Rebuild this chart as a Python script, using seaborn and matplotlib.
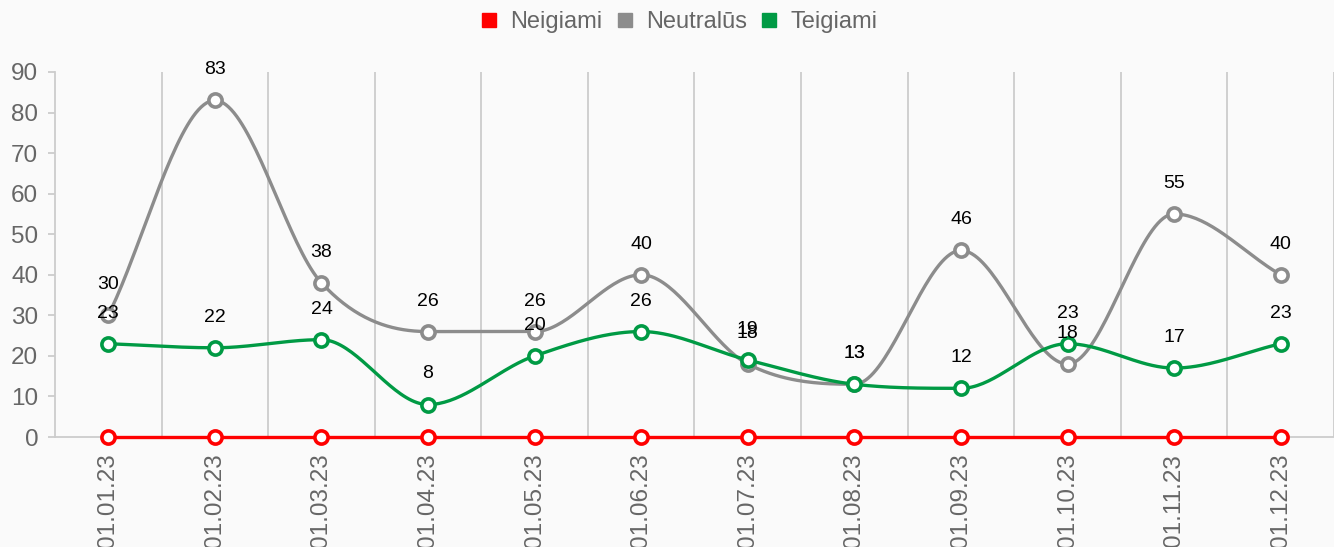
import numpy as np
import pandas as pd
import matplotlib
matplotlib.use("Agg")
import matplotlib.pyplot as plt
import seaborn as sns
from matplotlib.lines import Line2D

# -------------------
# Data
# -------------------
dates = ["01.01.23", "01.02.23", "01.03.23", "01.04.23", "01.05.23", "01.06.23",
         "01.07.23", "01.08.23", "01.09.23", "01.10.23", "01.11.23", "01.12.23"]
neigiami = [0, 0, 0, 0, 0, 0, 0, 0, 0, 0, 0, 0]
neutralus = [30, 83, 38, 26, 26, 40, 18, 13, 46, 18, 55, 40]
teigiami = [23, 22, 24, 8, 20, 26, 19, 13, 12, 23, 17, 23]

series_names = ["Neigiami", "Neutralūs", "Teigiami"]
series_values = [neigiami, neutralus, teigiami]
colors = ["#ff0000", "#8c8c8c", "#009a44"]
zorders = [5, 3, 4]

Y_MAX = 90
CAT_PX = 107.3  # width of one category band in pixels


def smooth_monotone(values, n=40):
    """Monotone cubic curve through the points (chart.js 'monotone' mode)."""
    y = np.asarray(values, dtype=float)
    x = np.arange(len(y), dtype=float)
    k = len(y)
    delta = np.diff(y) / np.diff(x)
    m = np.zeros(k)
    m[0] = delta[0]
    m[-1] = delta[-1]
    for i in range(1, k - 1):
        if np.sign(delta[i - 1]) != np.sign(delta[i]) or delta[i - 1] == 0 or delta[i] == 0:
            m[i] = 0
        else:
            m[i] = (delta[i - 1] + delta[i]) / 2
    for i in range(k - 1):
        if delta[i] == 0:
            m[i] = m[i + 1] = 0
            continue
        a = m[i] / delta[i]
        b = m[i + 1] / delta[i]
        s = a * a + b * b
        if s > 9:
            t = 3 / np.sqrt(s)
            m[i] = a * t * delta[i]
            m[i + 1] = b * t * delta[i]
    t = np.linspace(0, 1, n)
    xs, ys = [], []
    for i in range(k - 1):
        h = x[i + 1] - x[i]
        h00 = 2 * t ** 3 - 3 * t ** 2 + 1
        h10 = t ** 3 - 2 * t ** 2 + t
        h01 = -2 * t ** 3 + 3 * t ** 2
        h11 = t ** 3 - t ** 2
        seg_y = h00 * y[i] + h10 * h * m[i] + h01 * y[i + 1] + h11 * h * m[i + 1]
        seg_x = x[i] + t * h
        start = 0 if i == 0 else 1
        xs.append(seg_x[start:])
        ys.append(seg_y[start:])
    return np.concatenate(xs), np.concatenate(ys)


# -------------------
# Plot
# -------------------
sns.set_theme(style="white")
plt.rcParams['font.family'] = ['Liberation Sans', 'DejaVu Sans']

bg = "#fafafa"
fig = plt.figure(figsize=(13.34, 5.47), dpi=100, facecolor=bg)
ax = fig.add_axes([55 / 1334, 110 / 547, 1 - 55 / 1334, 365 / 547])
ax.set_facecolor(bg)

pos = np.arange(len(dates))
for name, vals, col, z in zip(series_names, series_values, colors, zorders):
    xs, ys = smooth_monotone(vals)
    df_line = pd.DataFrame({"x": xs, "y": ys})
    sns.lineplot(data=df_line, x="x", y="y", ax=ax, color=col, linewidth=2.4,
                 sort=False, zorder=z, clip_on=False)
    ax.plot(pos, vals, linestyle="none", marker="o", markersize=9.5,
            markerfacecolor="white", markeredgecolor=col, markeredgewidth=2.6,
            zorder=z + 0.5, clip_on=False)
    for xi, v in zip(pos, vals):
        if v > 0:
            ax.annotate(str(v), (xi, v), xytext=(0, 22), textcoords="offset points",
                        ha="center", va="center", fontsize=14, color="black", zorder=10)

ax.set_xlim(-0.5, (1334 - 55) / CAT_PX - 0.5)
ax.set_ylim(0, Y_MAX)
ax.set_xlabel("")
ax.set_ylabel("")

ax.set_xticks(pos)
ax.set_xticklabels(dates, rotation=90, fontsize=17.5, color="#666666")
ax.set_xticks(np.arange(len(dates)) + 0.5, minor=True)
ax.tick_params(axis="x", which="major", length=0, pad=12)
ax.tick_params(axis="x", which="minor", length=7, width=1.3, color="#cccccc")
ax.grid(True, axis="x", which="minor", color="#cccccc", linewidth=1.3)
ax.grid(False, axis="y")

ax.set_yticks(range(0, 91, 10))
ax.tick_params(axis="y", length=5, width=1.3, color="#cccccc", labelsize=17.5,
               labelcolor="#666666", pad=7, left=True)

for side in ["top", "right"]:
    ax.spines[side].set_visible(False)
for side in ["left", "bottom"]:
    ax.spines[side].set_color("#cccccc")
    ax.spines[side].set_linewidth(1.3)

handles = [Line2D([], [], linestyle="none", marker="s", markersize=9.5,
                  markerfacecolor=c, markeredgecolor=c) for c in colors]
fig.legend(handles, series_names, loc="center", bbox_to_anchor=(679 / 1334, 1 - 22 / 547),
           ncol=3, frameon=False, fontsize=17, labelcolor="#666666",
           handlelength=0.7, handletextpad=0.55, columnspacing=0.6)

plt.savefig("out.png", dpi=100, facecolor=bg)
